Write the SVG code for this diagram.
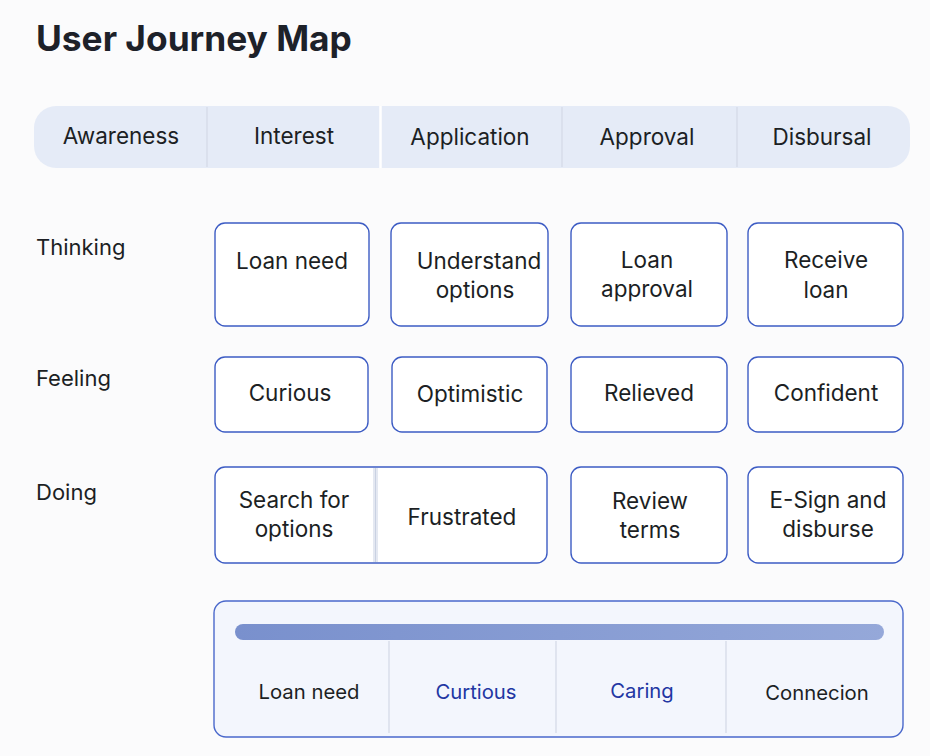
<svg xmlns="http://www.w3.org/2000/svg" width="930" height="756" viewBox="0 0 930 756">
<defs>
<linearGradient id="bar" x1="0" x2="1" y1="0" y2="0">
<stop offset="0" stop-color="#7990cd"/>
<stop offset="1" stop-color="#95a8d9"/>
</linearGradient>
<style>
text{font-family:Inter,"Noto Sans","Liberation Sans",sans-serif;fill:#1c1f24;text-anchor:middle;font-size:22.5px}
.title{font-size:35.3px;font-weight:700;text-anchor:start;fill:#1d2129}
.row{text-anchor:start;font-size:22px}
.box{fill:#ffffff;stroke:#3d5cc4;stroke-width:1.4}
.div{stroke:#d3d9e6;stroke-width:1.2}
.blue{fill:#2236a3}
.sum{font-size:20.3px}
</style>
</defs>
<rect width="930" height="756" fill="#fbfbfc"/>
<text class="title" x="36" y="51">User Journey Map</text>

<g id="header">
<rect x="34" y="106" width="876" height="62" rx="22" fill="#e5ebf7"/>
<line class="div" x1="207" y1="107" x2="207" y2="167"/>
<line x1="380.5" y1="106" x2="380.5" y2="168" stroke="#ffffff" stroke-width="2.5"/>
<line class="div" x1="562" y1="107" x2="562" y2="167"/>
<line class="div" x1="737" y1="107" x2="737" y2="167"/>
<text x="121" y="144">Awareness</text>
<text x="294" y="144">Interest</text>
<text x="470" y="145">Application</text>
<text x="647" y="145">Approval</text>
<text x="822" y="145">Disbursal</text>
</g>

<g id="row-labels">
<text class="row" x="36" y="255">Thinking</text>
<text class="row" x="36" y="386">Feeling</text>
<text class="row" x="36" y="500">Doing</text>
</g>

<g id="think-1"><rect class="box" x="215" y="223" width="154" height="103" rx="10"/><text x="292" y="269">Loan need</text></g>
<g id="think-2"><rect class="box" x="391" y="223" width="157" height="103" rx="10"/><text x="479" y="269">Understand</text><text x="475" y="298">options</text></g>
<g id="think-3"><rect class="box" x="571" y="223" width="156" height="103" rx="10"/><text x="647" y="268">Loan</text><text x="647" y="297">approval</text></g>
<g id="think-4"><rect class="box" x="748" y="223" width="155" height="103" rx="10"/><text x="826" y="268">Receive</text><text x="826" y="298">loan</text></g>

<g id="feel-1"><rect class="box" x="215" y="357" width="153" height="75" rx="10"/><text x="290" y="401">Curious</text></g>
<g id="feel-2"><rect class="box" x="392" y="357" width="155" height="75" rx="10"/><text x="470" y="402">Optimistic</text></g>
<g id="feel-3"><rect class="box" x="571" y="357" width="156" height="75" rx="10"/><text x="649" y="401">Relieved</text></g>
<g id="feel-4"><rect class="box" x="748" y="357" width="155" height="75" rx="10"/><text x="826" y="401">Confident</text></g>

<g id="do-1">
<rect class="box" x="215" y="467" width="332" height="96" rx="10"/>
<rect x="373" y="468" width="5" height="94" fill="#e4e8f1"/>
<line x1="375.5" y1="468" x2="375.5" y2="562" stroke="#c9d1e2" stroke-width="1"/>
<text x="294" y="508">Search for</text><text x="294" y="537">options</text>
<text x="462" y="525">Frustrated</text>
</g>
<g id="do-3"><rect class="box" x="571" y="467" width="156" height="96" rx="10"/><text x="650" y="509">Review</text><text x="650" y="538">terms</text></g>
<g id="do-4"><rect class="box" x="748" y="467" width="155" height="96" rx="10"/><text x="828" y="508">E-Sign and</text><text x="828" y="537">disburse</text></g>

<g id="summary">
<rect x="214" y="601" width="689" height="136" rx="12" fill="#f3f6fd" stroke="#4a68cb" stroke-width="1.4"/>
<rect x="235" y="624" width="649" height="16" rx="8" fill="url(#bar)"/>
<line class="div" x1="389" y1="641" x2="389" y2="733"/>
<line class="div" x1="556" y1="641" x2="556" y2="733"/>
<line class="div" x1="726" y1="641" x2="726" y2="733"/>
<text class="sum" x="309" y="699">Loan need</text>
<text class="sum blue" x="476" y="699">Curtious</text>
<text class="sum blue" x="642" y="698">Caring</text>
<text class="sum" x="817" y="700">Connecion</text>
</g>
</svg>
